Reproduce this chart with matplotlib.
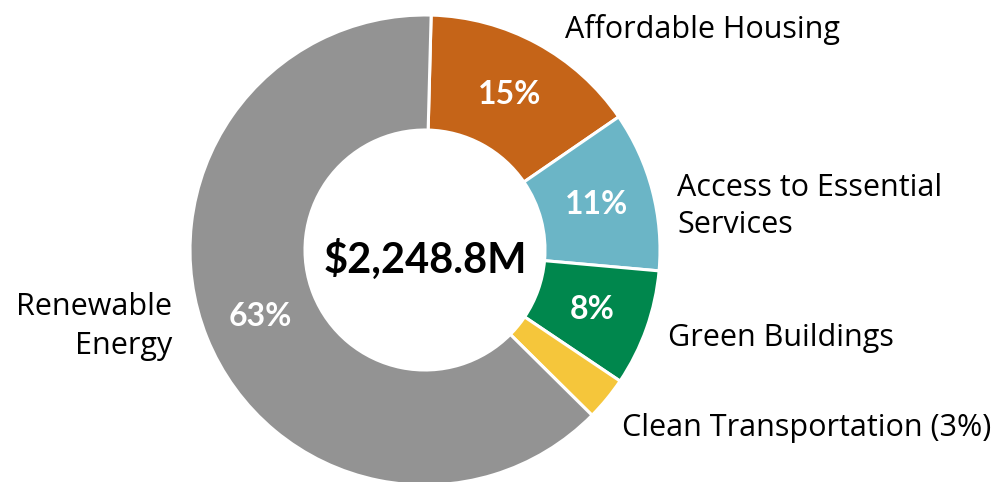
import numpy as np
import matplotlib.pyplot as plt

plt.rcParams['font.family'] = ['Open Sans', 'DejaVu Sans']

# Portfolio allocation by category (share of total, %)
categories = ["Affordable Housing", "Access to Essential\nServices", "Green Buildings",
              "Clean Transportation (3%)", "Renewable\nEnergy"]
shares = [15, 11, 8, 3, 63]
colors = ["#C56418", "#6BB5C6", "#00874D", "#F5C63B", "#939393"]
total_label = "$2,248.8M"

W, H = 1004, 482
fig = plt.figure(figsize=(W / 100, H / 100), dpi=100)

# donut centre at (425, 250) px, outer radius 235 px
cx, cy, R = 425, 250, 235
ax = fig.add_axes([(cx - R) / W, (H - cy - R) / H, 2 * R / W, 2 * R / H])

inner = 120 / R
wedges, _ = ax.pie(shares, colors=colors, startangle=88.5, counterclock=False,
                   radius=1, wedgeprops=dict(width=1 - inner, edgecolor='white', linewidth=2.2))
ax.set_xlim(-1, 1)
ax.set_ylim(-1, 1)
ax.set_aspect('equal')
ax.axis('off')

# percentage labels inside the ring (skip the thin slice)
bold = ['Lato', 'DejaVu Sans']
mid_r = (1 + inner) / 2
for w, s in zip(wedges, shares):
    if s < 5:
        continue
    ang = np.deg2rad((w.theta1 + w.theta2) / 2)
    ax.text(mid_r * np.cos(ang), mid_r * np.sin(ang), f"{s}%", color='white',
            fontsize=23, fontweight='bold', ha='center', va='center', family=bold)

ax.text(0, -0.04, total_label, fontsize=30, fontweight='bold', ha='center', va='center',
        family=bold)

# outer category labels, one text per line placed on its baseline (px)
def px(x, y):
    return x / W, 1 - y / H

anchors = [(565, [38], 'left'),
           (677, [196, 233], 'left'),
           (668, [346], 'left'),
           (622, [436], 'left'),
           (172, [315, 354], 'right')]
for name, (x, baselines, ha) in zip(categories, anchors):
    for line, yb in zip(name.split("\n"), baselines):
        fig.text(*px(x, yb), line, fontsize=22, color='black', ha=ha, va='baseline')

fig.savefig("out.png", dpi=100)
